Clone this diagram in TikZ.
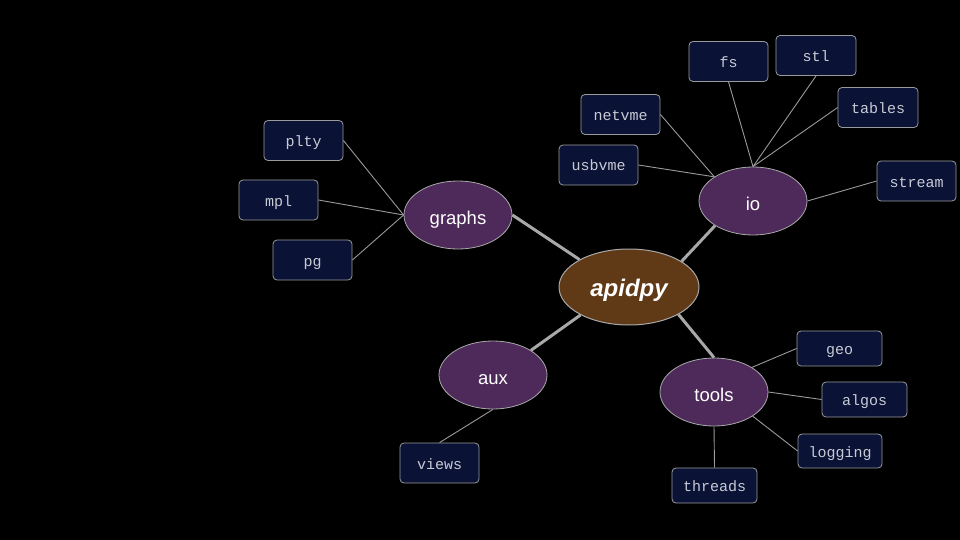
\documentclass[tikz,border=0pt]{standalone}
\usepackage{fontspec}
\setmainfont{Liberation Sans}
\newfontfamily\leafmono{Liberation Mono}
\usetikzlibrary{shapes.geometric}
\definecolor{rootfill}{HTML}{603A17}
\definecolor{hubfill}{HTML}{4E2A5A}
\definecolor{leaffill}{HTML}{0A1336}
\definecolor{edgegray}{HTML}{A8A8A8}
\definecolor{thingray}{HTML}{9A9A9A}
\definecolor{leaftext}{HTML}{C8CAD4}
\tikzset{
  rootnode/.style={ellipse, draw=edgegray, line width=1pt, fill=rootfill, minimum width=140pt, minimum height=76pt, inner sep=0pt, text=white, text height=18.5pt, text depth=0pt, font=\fontsize{24}{28}\selectfont\bfseries\itshape},
  hubnode/.style={ellipse, draw=edgegray, line width=0.8pt, fill=hubfill, minimum width=108pt, minimum height=68pt, inner sep=0pt, text=white, text height=19pt, text depth=0pt, font=\fontsize{18.5}{22}\selectfont},
  leafnode/.style={rectangle, rounded corners=4pt, draw=thingray, line width=0.8pt, fill=leaffill, minimum width=79pt, minimum height=40pt, inner sep=0pt, text=leaftext, text height=12pt, text depth=0pt, font=\leafmono\fontsize{15}{18}\selectfont},
  thickedge/.style={draw=edgegray, line width=3pt},
  thinedge/.style={draw=thingray, line width=0.9pt},
}
\begin{document}
\begin{tikzpicture}[x=1pt,y=-1pt]
\fill[black] (0,0) rectangle (960,540);
\useasboundingbox (0,0) rectangle (960,540);

% hubs
\node[hubnode] (graphs) at (458,215) {graphs};
\node[hubnode] (io) at (753,201) {io};
\node[hubnode] (aux) at (493,375) {aux};
\node[hubnode] (tools) at (714,392) {tools};
\node[rootnode] (root) at (629,287) {apidpy};

% thick edges
\draw[thickedge] (root.151) -- (graphs.east);
\draw[thickedge] (root.26) -- (io.213);
\draw[thickedge] (root.210) -- (aux.33);
\draw[thickedge] (root.-29) -- (tools.north);

% leaves
\node[leafnode] (fs) at (728.5,61.5) {fs};
\node[leafnode, minimum width=80pt] (stl) at (816,55.5) {stl};
\node[leafnode, minimum width=80pt] (tables) at (878,107.5) {tables};
\node[leafnode] (netvme) at (620.5,114.5) {netvme};
\node[leafnode] (usbvme) at (598.5,165) {usbvme};
\node[leafnode] (stream) at (916.5,181) {stream};
\node[leafnode] (plty) at (303.5,140.5) {plty};
\node[leafnode] (mpl) at (278.5,200) {mpl};
\node[leafnode] (pg) at (312.5,260) {pg};
\node[leafnode, minimum width=85pt, minimum height=35pt] (geo) at (839.5,348.5) {geo};
\node[leafnode, minimum width=85pt, minimum height=35pt] (algos) at (864.5,399.5) {algos};
\node[leafnode, minimum width=84pt, minimum height=34pt] (logging) at (840,451) {logging};
\node[leafnode, minimum width=85pt, minimum height=35pt] (threads) at (714.5,485.5) {threads};
\node[leafnode] (views) at (439.5,463) {views};

% thin edges
\draw[thinedge] (fs.south) -- (io.north);
\draw[thinedge] (stl.south) -- (io.north);
\draw[thinedge] (tables.west) -- (io.north);
\draw[thinedge] (netvme.east) -- (io.148);
\draw[thinedge] (usbvme.east) -- (io.148);
\draw[thinedge] (stream.west) -- (io.east);
\draw[thinedge] (plty.east) -- (graphs.west);
\draw[thinedge] (mpl.east) -- (graphs.west);
\draw[thinedge] (pg.east) -- (graphs.west);
\draw[thinedge] (geo.west) -- (tools.33);
\draw[thinedge] (algos.west) -- (tools.east);
\draw[thinedge] (logging.west) -- (tools.-32);
\draw[thinedge] (threads.north) -- (tools.south);
\draw[thinedge] (views.north) -- (aux.south);
\end{tikzpicture}
\end{document}
